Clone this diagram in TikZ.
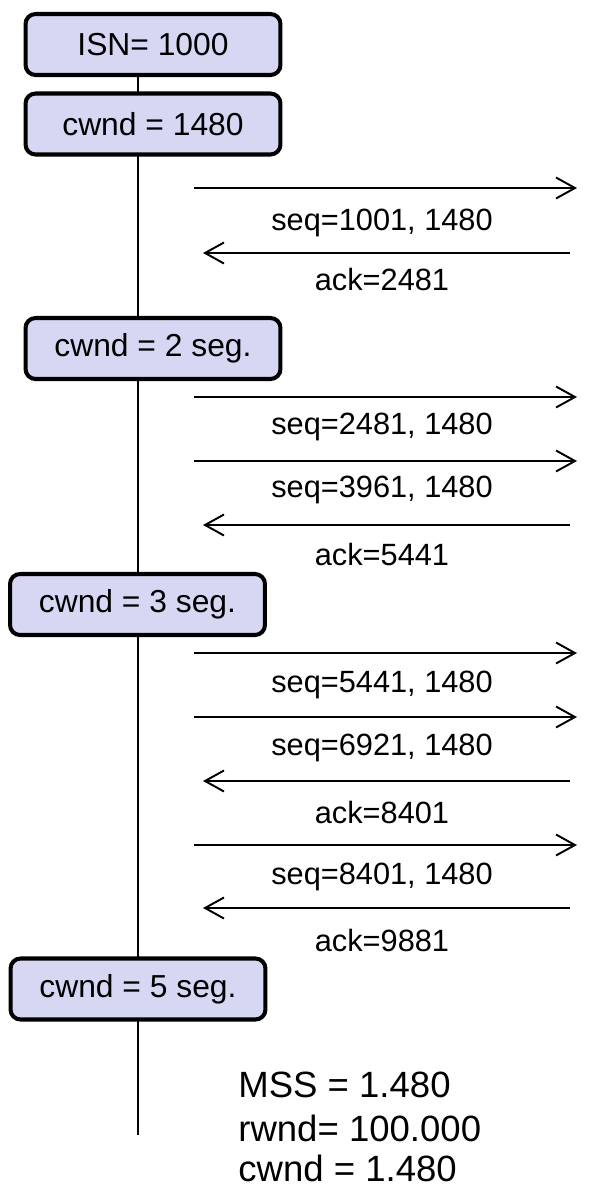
\documentclass[tikz,border=0pt]{standalone}
\usepackage{xcolor}
\usepackage{fontspec}
\setmainfont{Liberation Sans}
\usetikzlibrary{arrows.meta}

\definecolor{boxfill}{RGB}{214,215,243}

\begin{document}
\begin{tikzpicture}[
    x=0.02cm, y=-0.02cm,
    >={Straight Barb[length=0.38cm,width=0.42cm]},
    every node/.style={font=\fontsize{17.5}{21}\selectfont},
    state/.style={draw, line width=2.3pt, rounded corners=0.2cm, fill=boxfill,
                  minimum width=5.1cm, minimum height=1.22cm, inner sep=0pt, align=center,
                  font=\fontsize{18.1}{22}\selectfont},
    msg/.style={->, line width=1.1pt},
    lbl/.style={inner sep=0pt},
    note/.style={anchor=base west, inner sep=0pt, font=\fontsize{20.8}{25}\selectfont}
]
\useasboundingbox (0,0) rectangle (611,1187);

% Lebenslinie
\coordinate (lifetop) at (138,77);
\coordinate (lifeend) at (138,1135);
\draw[line width=0.85pt] (lifetop) -- (lifeend);

% Zustaende des Senders
\node[state] (isn)   at (153,44.5)  {ISN= 1000};
\node[state] (cwnd1) at (153,124)   {cwnd = 1480};
\node[state] (cwnd2) at (153,348.5) {cwnd = 2 seg.};
\node[state] (cwnd3) at (137.5,604.5) {cwnd = 3 seg.};
\node[state] (cwnd5) at (138,989)   {cwnd = 5 seg.};

% Segmente und Bestaetigungen
\foreach \y/\xa/\xb/\ly/\txt [count=\i] in {
    188/194/577/223/{seq=1001, 1480},
    253/570/203/280/{ack=2481},
    397/194/577/427/{seq=2481, 1480},
    461/194/577/490/{seq=3961, 1480},
    525/570/203/555/{ack=5441},
    653/194/577/685/{seq=5441, 1480},
    717/194/577/748/{seq=6921, 1480},
    781/570/203/812/{ack=8401},
    845/194/577/877/{seq=8401, 1480},
    908/570/203/940/{ack=9881}} {
  \coordinate (from\i) at (\xa,\y);
  \coordinate (to\i) at (\xb,\y);
  \draw[msg] (from\i) -- (to\i);
  \node[lbl] (lbl\i) at (382,\ly) {\txt};
}

% Parameter
\node[note] (mss)  at (238,1097) {MSS = 1.480};
\node[note] (rwnd) at (238,1141) {rwnd= 100.000};
\node[note] (cwnd) at (238,1181) {cwnd = 1.480};

\end{tikzpicture}
\end{document}
